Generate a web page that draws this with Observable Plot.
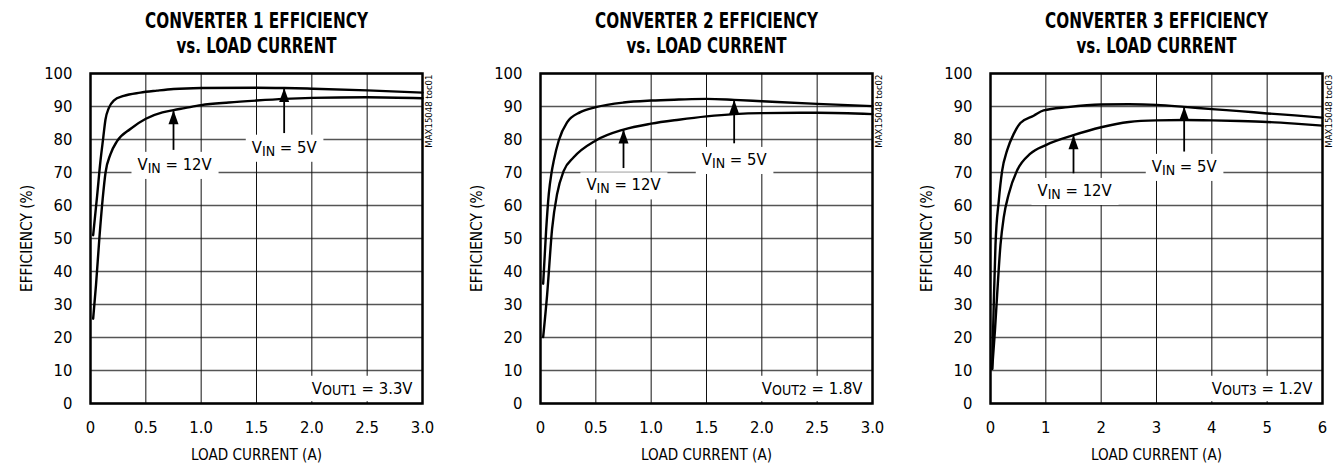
<!DOCTYPE html>
<html>
<head>
<meta charset="utf-8">
<script src="https://cdn.jsdelivr.net/npm/d3@7"></script>
<script src="https://cdn.jsdelivr.net/npm/@observablehq/plot@0.6"></script>
<style>
  body { margin: 0; background: #fff; }
  #row { display: flex; width: 1342px; height: 463px; }
</style>
</head>
<body>
<div id="row"></div>
<script>
// ---------- DATA ----------
const titles1 = ["CONVERTER 1 EFFICIENCY", "vs. LOAD CURRENT"];
const titles2 = ["CONVERTER 2 EFFICIENCY", "vs. LOAD CURRENT"];
const titles3 = ["CONVERTER 3 EFFICIENCY", "vs. LOAD CURRENT"];

const yTicks = [0, 10, 20, 30, 40, 50, 60, 70, 80, 90, 100];
const xTicks12 = [0, 0.5, 1, 1.5, 2, 2.5, 3];
const xTickLabels12 = ["0", "0.5", "1.0", "1.5", "2.0", "2.5", "3.0"];
const xTicks3 = [0, 1, 2, 3, 4, 5, 6];
const xTickLabels3 = ["0", "1", "2", "3", "4", "5", "6"];

// [load current (A), efficiency (%)]
const conv1Vin5 = [[0.024,51],[0.06,63],[0.09,73.5],[0.115,80.5],[0.135,86],[0.165,89.5],[0.21,91.8],[0.3,93.2],[0.45,94.2],[0.6,94.8],[0.75,95.3],[1.0,95.6],[1.5,95.7],[1.75,95.6],[2.0,95.4],[2.5,94.9],[3.0,94.2]];
const conv1Vin12 = [[0.024,25.7],[0.05,36],[0.08,50],[0.11,62],[0.136,70],[0.18,75.5],[0.24,79.5],[0.36,83.2],[0.5,86.3],[0.65,88.2],[0.75,88.9],[0.85,89.5],[1.0,90.4],[1.25,91.2],[1.5,91.8],[1.75,92.3],[2.0,92.6],[2.5,92.8],[3.0,92.5]];

const conv2Vin5 = [[0.024,36.3],[0.05,52],[0.075,63.5],[0.1,70],[0.12,73.6],[0.165,79.7],[0.24,85.2],[0.36,88.3],[0.5,89.8],[0.75,91.2],[1.0,91.8],[1.25,92.1],[1.5,92.3],[1.75,92],[2.0,91.6],[2.5,90.8],[3.0,90.1]];
const conv2Vin12 = [[0.024,20.1],[0.06,33],[0.105,53],[0.15,63.5],[0.21,70.5],[0.3,74.6],[0.5,79.7],[0.75,83],[1.0,84.8],[1.25,86],[1.5,87],[1.75,87.7],[2.0,88],[2.5,88.1],[3.0,87.7]];

const conv3Vin5 = [[0.03,10.5],[0.06,31],[0.09,48],[0.15,61.5],[0.21,70.5],[0.3,76.7],[0.42,81.7],[0.54,85],[0.78,87.2],[0.96,88.8],[1.4,89.8],[2.0,90.6],[2.5,90.7],[3.0,90.5],[3.5,89.9],[4.0,89.2],[4.5,88.6],[5.0,87.9],[5.5,87.3],[6.0,86.6]];
const conv3Vin12 = [[0.03,10.5],[0.08,22],[0.12,33],[0.18,48],[0.24,56.5],[0.33,63.5],[0.48,70.6],[0.72,75.7],[1.0,78.3],[1.5,81.3],[2.0,83.7],[2.5,85.3],[3.0,85.8],[3.5,85.9],[4.0,85.8],[4.5,85.6],[5.0,85.3],[5.5,84.8],[6.0,84.2]];

// annotation labels (data coordinates) and arrows
const labels1 = [{x: 0.76, y: 72.4, text: "VIN = 12V"}, {x: 1.75, y: 77.6, text: "VIN = 5V"}];
const arrows1 = [{x: 0.75, from: 76.7, to: 88.9}, {x: 1.75, from: 81.8, to: 95.6}];
const labels2 = [{x: 0.75, y: 66.2, text: "VIN = 12V"}, {x: 1.75, y: 73.9, text: "VIN = 5V"}];
const arrows2 = [{x: 0.75, from: 71.2, to: 83.0}, {x: 1.75, from: 78.7, to: 92.0}];
const labels3 = [{x: 1.52, y: 64.5, text: "VIN = 12V"}, {x: 3.5, y: 71.8, text: "VIN = 5V"}];
const arrows3 = [{x: 1.5, from: 69.6, to: 81.3}, {x: 3.5, from: 76.2, to: 89.9}];

const vouts = ["VOUT1 = 3.3V", "VOUT2 = 1.8V", "VOUT3 = 1.2V"];
const tocs = ["MAX15048 toc01", "MAX15048 toc02", "MAX15048 toc03"];

const yLabel = "EFFICIENCY (%)";
const xLabel = "LOAD CURRENT (A)";

// ---------- DRAWING ----------
const FONT = '"Liberation Sans Narrow", "Arial Narrow", "DejaVu Sans Condensed", "Liberation Sans", sans-serif';

const arrowHead = {
  draw(ctx) {
    ctx.moveTo(0, 0);
    ctx.lineTo(-5, 14);
    ctx.lineTo(5, 14);
    ctx.closePath();
  }
};

function panel(cfg) {
  const fmt = d => cfg.xLabels[cfg.xTicks.indexOf(d)];
  return Plot.plot({
    width: cfg.width,
    height: 463,
    marginLeft: 90,
    marginRight: cfg.width - 422,
    marginTop: 73,
    marginBottom: 60,
    style: {fontFamily: FONT, fontSize: "16.5px", color: "#000", background: "#fff"},
    x: {domain: [0, cfg.xMax]},
    y: {domain: [0, 100]},
    marks: [
      Plot.gridY(yTicks, {stroke: "#555", strokeOpacity: 1, strokeWidth: 1.3}),
      Plot.gridX(cfg.xTicks, {stroke: "#111", strokeOpacity: 1, strokeWidth: 1}),
      Plot.line(cfg.s5, {x: d => d[0], y: d => d[1], curve: "monotone-x", stroke: "#000", strokeWidth: 2.4}),
      Plot.line(cfg.s12, {x: d => d[0], y: d => d[1], curve: "monotone-x", stroke: "#000", strokeWidth: 2.4}),
      Plot.ruleX(cfg.arrows, {x: "x", y1: "from", y2: "to", stroke: "#000", strokeWidth: 1.8}),
      Plot.dot(cfg.arrows, {x: "x", y: "to", symbol: arrowHead, fill: "#000", stroke: "none", r: 3}),
      Plot.text(cfg.labels, {x: "x", y: "y", text: "text", fontSize: 16.5, fill: "#000", lineAnchor: "middle"}),
      Plot.text([cfg.vout], {text: d => d, frameAnchor: "bottom-right", textAnchor: "end", lineAnchor: "middle", dx: -10, dy: -15, fontSize: 16.5, fill: "#000"}),
      Plot.text([cfg.toc], {text: d => d, frameAnchor: "top-right", textAnchor: "end", lineAnchor: "middle", rotate: -90, dx: 6, dy: 1, fontSize: 9.5, fill: "#000"}),
      Plot.text([cfg.titles[0]], {text: d => d, frameAnchor: "top", lineAnchor: "middle", dy: -51.8, fontSize: 21, fontWeight: "bold", fill: "#000"}),
      Plot.text([cfg.titles[1]], {text: d => d, frameAnchor: "top", lineAnchor: "middle", dy: -27.3, fontSize: 21, fontWeight: "bold", fill: "#000"}),
      Plot.axisY(yTicks, {tickSize: 0, tickPadding: 18, fontSize: 16.5, label: yLabel, labelAnchor: "center", labelOffset: 70, labelArrow: false}),
      Plot.axisX(cfg.xTicks, {tickSize: 0, tickPadding: 18, fontSize: 16.5, tickFormat: fmt, label: xLabel, labelAnchor: "center", labelOffset: 56, labelArrow: false}),
      Plot.frame({stroke: "#000", strokeWidth: 2.5})
    ]
  });
}

function fitText(el, len) {
  d3.select(el).attr("textLength", len).attr("lengthAdjust", "spacingAndGlyphs");
}

function finish(svg, cfg) {
  const s = d3.select(svg);
  s.selectAll("text").each(function () {
    const t = this.textContent;
    if (t === cfg.titles[0]) { fitText(this, 223); return; }
    if (t === cfg.titles[1]) { fitText(this, 160); return; }
    if (t === xLabel) { fitText(this, 131); return; }
    if (t === yLabel) { fitText(this, 107); return; }
    const m = /^V(IN|OUT\d)(.*)$/.exec(t);
    if (!m) return;
    const el = d3.select(this);
    const shift = m[1] === "IN" ? 0.22 : 0.1;
    el.text(null);
    el.append("tspan").text("V");
    el.append("tspan").attr("font-size", "0.85em").attr("dy", shift + "em").text(m[1]);
    el.append("tspan").attr("dy", (-shift * 0.85) + "em").text(m[2]);
    const b = this.getBBox();
    const padX = 6, padY = 3;
    const r = document.createElementNS("http://www.w3.org/2000/svg", "rect");
    r.setAttribute("x", b.x - padX);
    r.setAttribute("y", b.y - padY);
    r.setAttribute("width", b.width + 2 * padX);
    r.setAttribute("height", b.height + 2 * padY);
    r.setAttribute("fill", "#fff");
    const tr = this.getAttribute("transform");
    if (tr) r.setAttribute("transform", tr);
    this.parentNode.insertBefore(r, this);
  });
}

const row = document.getElementById("row");
const configs = [
  {width: 450, xMax: 3, xTicks: xTicks12, xLabels: xTickLabels12, s5: conv1Vin5, s12: conv1Vin12, labels: labels1, arrows: arrows1, vout: vouts[0], toc: tocs[0], titles: titles1},
  {width: 450, xMax: 3, xTicks: xTicks12, xLabels: xTickLabels12, s5: conv2Vin5, s12: conv2Vin12, labels: labels2, arrows: arrows2, vout: vouts[1], toc: tocs[1], titles: titles2},
  {width: 442, xMax: 6, xTicks: xTicks3, xLabels: xTickLabels3, s5: conv3Vin5, s12: conv3Vin12, labels: labels3, arrows: arrows3, vout: vouts[2], toc: tocs[2], titles: titles3}
];
for (const cfg of configs) {
  const svg = panel(cfg);
  row.appendChild(svg);
  finish(svg, cfg);
}
</script>
</body>
</html>
